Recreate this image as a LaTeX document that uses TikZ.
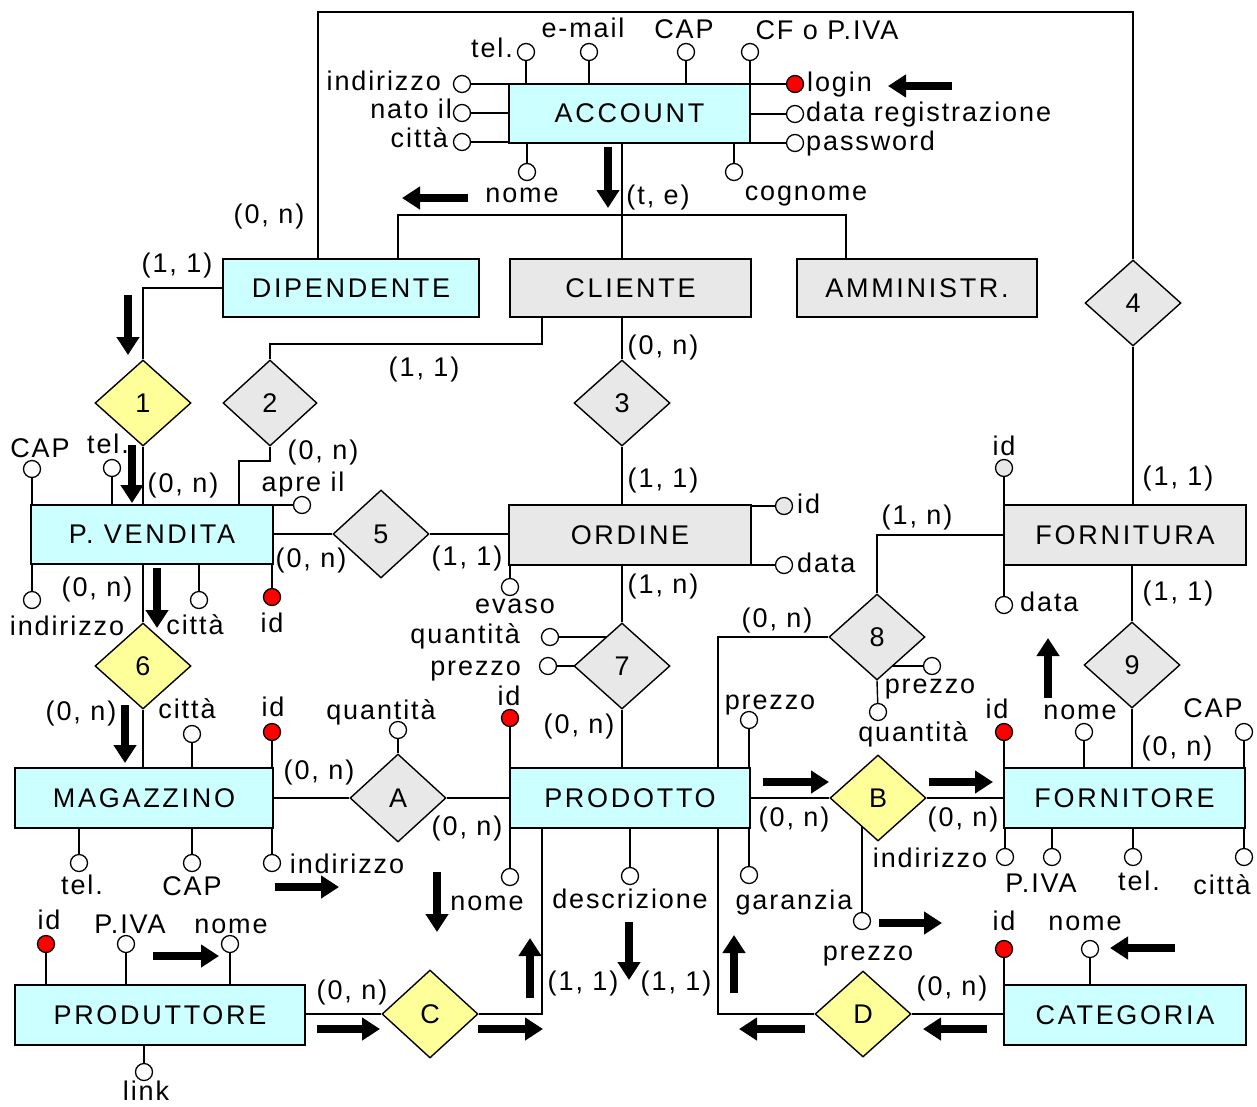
\documentclass[tikz,border=0pt]{standalone}
\usepackage{fontspec}
\setmainfont{Liberation Sans}[LetterSpace=7]
\newfontfamily\entfont{Liberation Sans}[LetterSpace=10]
\usetikzlibrary{shapes.geometric,arrows.meta}
\definecolor{cyanbg}{HTML}{CCFFFF}
\definecolor{graybg}{HTML}{E8E8E8}
\definecolor{yelbg}{HTML}{FFFF99}
\pgfdeclarelayer{bg}
\pgfsetlayers{bg,main}
\tikzset{
 ent/.style={draw, line width=1.6pt, inner sep=0pt, font=\entfont\fontsize{27}{30}\selectfont},
 entc/.style={ent, fill=cyanbg},
 entg/.style={ent, fill=graybg},
 rel/.style={diamond, draw, line width=1.4pt, inner sep=0pt, minimum width=96pt, minimum height=86pt},
 rely/.style={rel, fill=yelbg},
 relg/.style={rel, fill=graybg},
 attr/.style={circle, draw, line width=1.3pt, fill=white, minimum size=17pt, inner sep=0pt},
 keyattr/.style={attr, fill=red},
 gattr/.style={attr, fill=graybg},
 lbl/.style={inner sep=0pt, text height=19pt, text depth=5pt},
 conn/.style={line width=1.4pt},
 barrow/.style={line width=8pt, -{Triangle[length=18pt,width=22pt]}},
}
\begin{document}
\begin{tikzpicture}[x=1pt,y=-1pt,font=\fontsize{27}{30}\selectfont]
\begin{pgfonlayer}{bg}
\fill[white] (0,0) rectangle (1257,1106);
\end{pgfonlayer}
\useasboundingbox (0,0) rectangle (1257,1106);

% entities
\node[entc, minimum width=241pt, minimum height=59pt] (acc) at (629.5,113.5) {ACCOUNT};
\node[entc, minimum width=256pt, minimum height=58pt] (dip) at (351,288) {DIPENDENTE};
\node[entg, minimum width=241pt, minimum height=58pt] (cli) at (630.5,288) {CLIENTE};
\node[entg, minimum width=240pt, minimum height=58pt] (amm) at (917,288) {AMMINISTR.};
\node[entc, minimum width=242pt, minimum height=59pt] (pv) at (152,534.5) {P. VENDITA};
\node[entg, minimum width=242pt, minimum height=60pt] (ord) at (630,535) {ORDINE};
\node[entg, minimum width=242pt, minimum height=60pt] (forn) at (1125,535) {FORNITURA};
\node[entc, minimum width=258pt, minimum height=60pt] (mag) at (144,798) {MAGAZZINO};
\node[entc, minimum width=240pt, minimum height=60pt] (prod) at (630,798) {PRODOTTO};
\node[entc, minimum width=241pt, minimum height=60pt] (fore) at (1124.5,798) {FORNITORE};
\node[entc, minimum width=290pt, minimum height=60pt] (prodt) at (160,1015) {PRODUTTORE};
\node[entc, minimum width=242pt, minimum height=60pt] (cat) at (1125,1015) {CATEGORIA};

% relationships
\node[rely] (d1) at (143,403) {1};
\node[relg, minimum width=94pt] (d2) at (270,403) {2};
\node[relg] (d3) at (622,403) {3};
\node[relg] (d4) at (1133,303) {4};
\node[relg, minimum height=88pt] (d5) at (381,534) {5};
\node[rely] (d6) at (143,666) {6};
\node[relg] (d7) at (622,666) {7};
\node[relg] (d8) at (877,637) {8};
\node[relg] (d9) at (1132,665) {9};
\node[relg, minimum height=88pt] (dA) at (398,798) {A};
\node[rely] (dB) at (878,798) {B};
\node[rely, minimum height=88pt] (dC) at (430,1014) {C};
\node[rely] (dD) at (863,1014) {D};

% attributes
\node[attr] (a_tel) at (526,52) {};
\node[attr] (a_email) at (589,52) {};
\node[attr] (a_cap) at (686,52) {};
\node[attr] (a_cf) at (750,52) {};
\node[attr] (a_ind) at (462,84) {};
\node[attr] (a_nato) at (462,113) {};
\node[attr] (a_citta) at (462,142) {};
\node[keyattr] (a_login) at (795,84) {};
\node[attr] (a_data) at (795,114) {};
\node[attr] (a_pwd) at (795,143) {};
\node[attr] (a_nome) at (527,172) {};
\node[attr] (a_cogn) at (734,172) {};

\node[attr] (pv_cap) at (32,469) {};
\node[attr] (pv_tel) at (112,468) {};
\node[attr] (pv_apre) at (302,505) {};
\node[attr] (pv_ind) at (32,600) {};
\node[attr] (pv_citta) at (199,600) {};
\node[keyattr] (pv_id) at (272,597) {};

\node[attr] (mag_citta) at (192,734) {};
\node[keyattr] (mag_id) at (272,732) {};
\node[attr] (mag_tel) at (79,863) {};
\node[attr] (mag_cap) at (192,863) {};
\node[attr] (mag_ind) at (272,863) {};

\node[attr] (dA_q) at (398,730) {};

\node[gattr] (ord_id) at (784,506) {};
\node[attr] (ord_data) at (784,565) {};
\node[attr] (ord_evaso) at (510,587) {};

\node[attr] (d7_q) at (550,637) {};
\node[attr] (d7_p) at (548,666) {};

\node[keyattr] (pr_id) at (510,718) {};
\node[attr] (pr_prezzo) at (749,720) {};
\node[attr] (pr_nome) at (510,877) {};
\node[attr] (pr_desc) at (630,876) {};
\node[attr] (pr_gar) at (749,875) {};

\node[attr] (d8_p) at (932,666) {};
\node[attr] (d8_q) at (878,712) {};
\node[attr] (dB_p) at (862,921) {};

\node[gattr] (forn_id) at (1004,468) {};
\node[attr] (forn_data) at (1004,605) {};

\node[keyattr] (fore_id) at (1004,732) {};
\node[attr] (fore_nome) at (1084,732) {};
\node[attr] (fore_cap) at (1244,732) {};
\node[attr] (fore_ind) at (1005,857) {};
\node[attr] (fore_piva) at (1052,857) {};
\node[attr] (fore_tel) at (1133,857) {};
\node[attr] (fore_citta) at (1244,857) {};

\node[keyattr] (pt_id) at (46,944) {};
\node[attr] (pt_piva) at (126,944) {};
\node[attr] (pt_nome) at (230,944) {};
\node[attr] (pt_link) at (144,1072) {};

\node[keyattr] (cat_id) at (1004,949) {};
\node[attr] (cat_nome) at (1090,949) {};

% connectors
\begin{pgfonlayer}{bg}
\coordinate (topL) at (318,12);
\draw[conn] (topL |- dip.north) -- (topL) -| (d4.north);
\draw[conn] (d4.south) -- (d4.south |- forn.north);
\coordinate (isaM) at (622,215);
\coordinate (isaL) at (398,215);
\coordinate (isaR) at (846,215);
\draw[conn] (isaM |- acc.south) -- (isaM |- cli.north);
\draw[conn] (isaL |- dip.north) -- (isaL) -- (isaR) -- (isaR |- amm.north);
\draw[conn] (dip.west) -| (d1.north);
\draw[conn] (d1.south) -- (d1.south |- pv.north);
\coordinate (c2a) at (542,344);
\draw[conn] (d2.north) |- (c2a) -- (c2a |- cli.south);
\coordinate (c2b) at (239,461);
\draw[conn] (d2.south) |- (c2b) -- (c2b |- pv.north);
\draw[conn] (d3.north |- cli.south) -- (d3.north);
\draw[conn] (d3.south) -- (d3.south |- ord.north);
\draw[conn] (pv.east |- d5.west) -- (d5.west);
\draw[conn] (d5.east) -- (d5.east -| ord.west);
\draw[conn] (d7.north |- ord.south) -- (d7.north);
\draw[conn] (d7.south) -- (d7.south |- prod.north);
\draw[conn] (d6.north |- pv.south) -- (d6.north);
\draw[conn] (d6.south) -- (d6.south |- mag.north);
\draw[conn] (mag.east |- dA.west) -- (dA.west);
\draw[conn] (dA.east) -- (dA.east -| prod.west);
\coordinate (c8) at (718,637);
\draw[conn] (c8 |- prod.north) |- (d8.west);
\draw[conn] (d8.north) |- (forn.west);
\draw[conn] (d9.north |- forn.south) -- (d9.north);
\draw[conn] (d9.south) -- (d9.south |- fore.north);
\draw[conn] (prod.east |- dB.west) -- (dB.west);
\draw[conn] (dB.east) -- (dB.east -| fore.west);
\draw[conn] (prodt.east |- dC.west) -- (dC.west);
\coordinate (cC) at (542,1014);
\draw[conn] (dC.east) -| (cC |- prod.south);
\coordinate (cD) at (718,1014);
\draw[conn] (dD.west) -| (cD |- prod.south);
\draw[conn] (dD.east) -- (dD.east -| cat.west);
% attribute links
\foreach \a in {a_tel,a_email,a_cap,a_cf} \draw[conn] (\a) -- (\a |- acc.north);
\foreach \a in {a_ind,a_nato,a_citta} \draw[conn] (\a) -- (\a -| acc.west);
\foreach \a in {a_login,a_data,a_pwd} \draw[conn] (\a) -- (\a -| acc.east);
\foreach \a in {a_nome,a_cogn} \draw[conn] (\a) -- (\a |- acc.south);
\foreach \a in {pv_cap,pv_tel} \draw[conn] (\a) -- (\a |- pv.north);
\draw[conn] (pv_apre) -- (pv_apre -| pv.east);
\foreach \a in {pv_ind,pv_citta,pv_id} \draw[conn] (\a) -- (\a |- pv.south);
\foreach \a in {mag_citta,mag_id} \draw[conn] (\a) -- (\a |- mag.north);
\foreach \a in {mag_tel,mag_cap,mag_ind} \draw[conn] (\a) -- (\a |- mag.south);
\draw[conn] (dA_q) -- (dA.north);
\foreach \a in {ord_id,ord_data} \draw[conn] (\a) -- (\a -| ord.east);
\draw[conn] (ord_evaso) -- (ord_evaso |- ord.south);
\foreach \a in {d7_q,d7_p} \draw[conn] (\a) -- (\a -| d7.center);
\foreach \a in {pr_id,pr_prezzo} \draw[conn] (\a) -- (\a |- prod.north);
\foreach \a in {pr_nome,pr_desc,pr_gar} \draw[conn] (\a) -- (\a |- prod.south);
\draw[conn] (d8_p) -- (d8_p -| d8.center);
\draw[conn] (d8_q) -- (d8.south);
\draw[conn] (dB_p) -- (dB_p |- dB.center);
\draw[conn] (forn_id) -- (forn_id |- forn.north);
\draw[conn] (forn_data) -- (forn_data |- forn.south);
\foreach \a in {fore_id,fore_nome,fore_cap} \draw[conn] (\a) -- (\a |- fore.north);
\foreach \a in {fore_ind,fore_piva,fore_tel,fore_citta} \draw[conn] (\a) -- (\a |- fore.south);
\foreach \a in {pt_id,pt_piva,pt_nome} \draw[conn] (\a) -- (\a |- prodt.north);
\draw[conn] (pt_link) -- (pt_link |- prodt.south);
\foreach \a in {cat_id,cat_nome} \draw[conn] (\a) -- (\a |- cat.north);
\end{pgfonlayer}

% labels
\node[lbl] (t1) at (492,50) {tel.};
\node[lbl] (t2) at (583,30) {e-mail};
\node[lbl] (t3) at (684,31) {CAP};
\node[lbl] (t4) at (827,32) {CF o P.IVA};
\node[lbl, anchor=east] (t5) at (441,83) {indirizzo};
\node[lbl, anchor=east] (t6) at (452,111) {nato il};
\node[lbl, anchor=east] (t7) at (448,140) {città};
\node[lbl, anchor=west] (t8) at (807,84) {login};
\node[lbl, anchor=west] (t9) at (806,114) {data registrazione};
\node[lbl, anchor=west] (t10) at (806,143) {password};
\node[lbl] (t11) at (522,195) {nome};
\node[lbl] (t12) at (806,193) {cognome};
\node[lbl] (t13) at (658,197) {(t, e)};
\node[lbl] (t14) at (269,216) {(0, n)};
\node[lbl] (t15) at (177,265) {(1, 1)};
\node[lbl] (t16) at (424,369) {(1, 1)};
\node[lbl] (t17) at (663,347) {(0, n)};
\node[lbl] (t18) at (663,480) {(1, 1)};
\node[lbl] (t19) at (323,452) {(0, n)};
\node[lbl] (t20) at (303,484) {apre il};
\node[lbl] (t21) at (183,485) {(0, n)};
\node[lbl] (t22) at (40,450) {CAP};
\node[lbl] (t23) at (108,446) {tel.};
\node[lbl] (t24) at (97,589) {(0, n)};
\node[lbl] (t25) at (67,628) {indirizzo};
\node[lbl] (t26) at (195,627) {città};
\node[lbl] (t27) at (272,625) {id};
\node[lbl] (t28) at (311,560) {(0, n)};
\node[lbl] (t29) at (467,558) {(1, 1)};
\node[lbl, anchor=west] (t30) at (797,506) {id};
\node[lbl, anchor=west] (t31) at (797,565) {data};
\node[lbl] (t32) at (917,517) {(1, n)};
\node[lbl] (t33) at (1004,448) {id};
\node[lbl] (t34) at (1178,478) {(1, 1)};
\node[lbl, anchor=west] (t35) at (1020,604) {data};
\node[lbl] (t36) at (1178,593) {(1, 1)};
\node[lbl] (t37) at (515,606) {evaso};
\node[lbl] (t38) at (663,586) {(1, n)};
\node[lbl, anchor=east] (t39) at (520,636) {quantità};
\node[lbl, anchor=east] (t40) at (521,668) {prezzo};
\node[lbl] (t41) at (777,620) {(0, n)};
\node[lbl] (t42) at (930,686) {prezzo};
\node[lbl] (t43) at (913,734) {quantità};
\node[lbl] (t44) at (81,713) {(0, n)};
\node[lbl] (t45) at (187,711) {città};
\node[lbl] (t46) at (273,709) {id};
\node[lbl] (t47) at (381,712) {quantità};
\node[lbl] (t48) at (509,698) {id};
\node[lbl] (t49) at (579,726) {(0, n)};
\node[lbl] (t50) at (770,702) {prezzo};
\node[lbl] (t51) at (997,711) {id};
\node[lbl] (t52) at (1080,712) {nome};
\node[lbl] (t53) at (1213,710) {CAP};
\node[lbl] (t54) at (1177,748) {(0, n)};
\node[lbl] (t55) at (319,772) {(0, n)};
\node[lbl] (t56) at (467,828) {(0, n)};
\node[lbl] (t57) at (794,819) {(0, n)};
\node[lbl] (t58) at (963,819) {(0, n)};
\node[lbl] (t59) at (930,860) {indirizzo};
\node[lbl] (t60) at (82,887) {tel.};
\node[lbl] (t61) at (192,888) {CAP};
\node[lbl] (t62) at (347,866) {indirizzo};
\node[lbl] (t63) at (487,903) {nome};
\node[lbl] (t64) at (630,901) {descrizione};
\node[lbl] (t65) at (794,902) {garanzia};
\node[lbl] (t66) at (1041,885) {P.IVA};
\node[lbl] (t67) at (1139,883) {tel.};
\node[lbl] (t68) at (1222,887) {città};
\node[lbl] (t69) at (49,922) {id};
\node[lbl] (t70) at (130,926) {P.IVA};
\node[lbl] (t71) at (231,926) {nome};
\node[lbl] (t72) at (868,953) {prezzo};
\node[lbl] (t73) at (1004,923) {id};
\node[lbl] (t74) at (1085,923) {nome};
\node[lbl] (t75) at (352,992) {(0, n)};
\node[lbl] (t76) at (583,983) {(1, 1)};
\node[lbl] (t77) at (676,983) {(1, 1)};
\node[lbl] (t78) at (952,988) {(0, n)};
\node[lbl] (t79) at (146,1093) {link};

% block arrows
\draw[barrow] (952,86) -- (888,86);
\draw[barrow] (608,147) -- (608,208);
\draw[barrow] (468,198) -- (402,198);
\draw[barrow] (128,295) -- (128,355);
\draw[barrow] (132,445) -- (132,503);
\draw[barrow] (157,568) -- (157,628);
\draw[barrow] (125,705) -- (125,763);
\draw[barrow] (275,887) -- (339,887);
\draw[barrow] (437,872) -- (437,932);
\draw[barrow] (153,956) -- (219,956);
\draw[barrow] (317,1029) -- (380,1029);
\draw[barrow] (478,1029) -- (543,1029);
\draw[barrow] (530,998) -- (530,938);
\draw[barrow] (629,922) -- (629,980);
\draw[barrow] (734,993) -- (734,935);
\draw[barrow] (805,1029) -- (739,1029);
\draw[barrow] (987,1029) -- (923,1029);
\draw[barrow] (1175,948) -- (1110,948);
\draw[barrow] (879,923) -- (942,923);
\draw[barrow] (763,782) -- (829,782);
\draw[barrow] (929,782) -- (993,782);
\draw[barrow] (1048,698) -- (1048,638);
\end{tikzpicture}
\end{document}
